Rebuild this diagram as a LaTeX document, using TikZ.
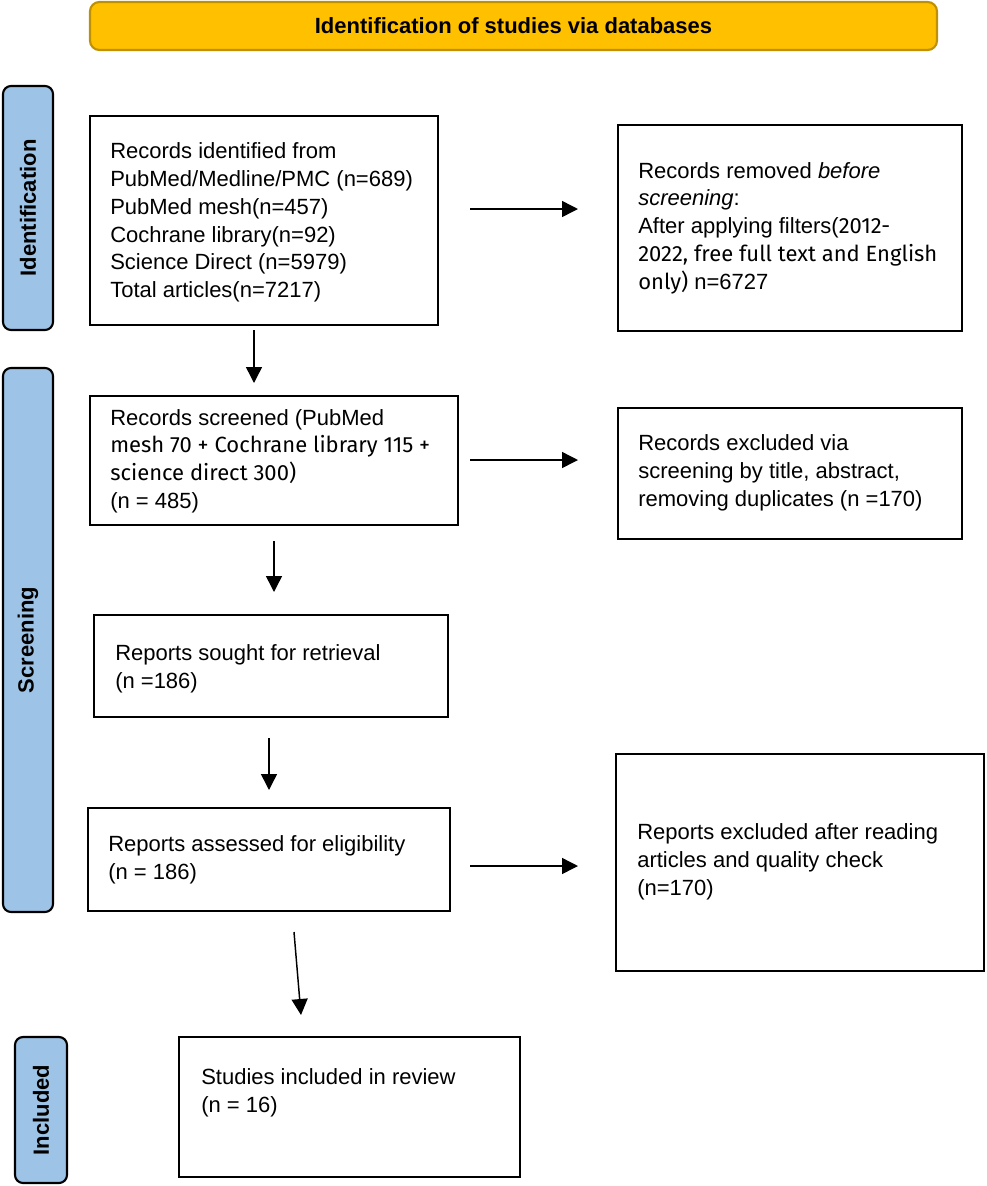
\documentclass[tikz,border=0pt]{standalone}
\usepackage{fontspec}
\setmainfont{Liberation Sans}
\newfontfamily\fira{Fira Sans}
\usetikzlibrary{arrows.meta}
\definecolor{gold}{HTML}{FFC000}
\definecolor{goldedge}{HTML}{BF9000}
\definecolor{sideblue}{HTML}{9DC3E6}
\begin{document}
\begin{tikzpicture}[x=0.75pt,y=-0.75pt,
  box/.style={draw=black, line width=2pt, inner sep=0, rectangle},
  side/.style={draw=black, line width=1.6pt, fill=sideblue, rounded corners=6pt, inner sep=0},
  sidetxt/.style={rotate=90, inner sep=0, font=\fontsize{16.5}{19}\selectfont\bfseries},
  txt/.style={anchor=west, align=left, inner sep=0, font=\fontsize{16.5}{20.8}\selectfont},
  arr/.style={line width=1.1pt, -{Triangle[length=12pt,width=12pt]}}]
\useasboundingbox (0,0) rectangle (986,1186);
% header
\node[draw=goldedge, line width=1.6pt, fill=gold, rounded corners=7pt,
  minimum width=635.25pt, minimum height=36pt, inner sep=0,
  font=\fontsize{16.5}{19}\selectfont\bfseries] (hdr) at (513.5,26) {Identification of studies via databases};
% side labels
\node[side, minimum width=37.5pt, minimum height=183pt] (sid) at (28,208) {};
\node[sidetxt] (sidt) at (sid.center) {Identification};
\node[side, minimum width=37.5pt, minimum height=408pt] (ssc) at (28,640) {};
\node[sidetxt] (ssct) at (ssc.center) {Screening};
\node[side, minimum width=39pt, minimum height=109.5pt] (sin) at (41,1110) {};
\node[sidetxt] (sint) at (sin.center) {Included};
% boxes
\node[box, minimum width=261pt, minimum height=156.75pt] (b1) at (264,220.5) {};
\node[box, minimum width=258pt, minimum height=154.5pt] (r1) at (790,228) {};
\node[box, minimum width=276pt, minimum height=96.75pt] (b2) at (274,460.5) {};
\node[box, minimum width=258pt, minimum height=98.25pt] (r2) at (790,473.5) {};
\node[box, minimum width=265.5pt, minimum height=76.5pt] (b3) at (271,666) {};
\node[box, minimum width=271.5pt, minimum height=77.25pt] (b4) at (269,859.5) {};
\node[box, minimum width=276pt, minimum height=162.75pt] (r3) at (800,862.5) {};
\node[box, minimum width=255.75pt, minimum height=105pt] (b5) at (349.5,1107) {};
% texts
\node[txt] (t1) at (110,222.5) {Records identified from\\PubMed/Medline/PMC (n=689)\\PubMed mesh(n=457)\\Cochrane library(n=92)\\Science Direct (n=5979)\\Total articles(n=7217)};
\node[txt] (tr1) at (638,228) {Records removed \textit{before}\\\textit{screening}:\\After applying filters({\fira 2012-}\\{\fira 2022, free full text and English}\\{\fira only)} n=6727};
\node[txt] (t2) at (110,461) {Records screened (PubMed\\{\fira mesh 70 + Cochrane library 115 +}\\{\fira science direct 300)}\\(n = 485)};
\node[txt] (tr2) at (638,473) {Records excluded via\\screening by title, abstract,\\removing duplicates (n =170)};
\node[txt] (t3) at (115,669) {Reports sought for retrieval\\(n =186)};
\node[txt] (t4) at (108,860) {Reports assessed for eligibility\\(n = 186)};
\node[txt] (tr3) at (637,862) {Reports excluded after reading\\articles and quality check\\(n=170)};
\node[txt] (t5) at (201,1093) {Studies included in review\\(n = 16)};
% arrow end points
\coordinate (a1s) at (470,209); \coordinate (a1e) at (578,209);
\coordinate (a2s) at (254,330); \coordinate (a2e) at (254,383);
\coordinate (a3s) at (470,460); \coordinate (a3e) at (578,460);
\coordinate (a4s) at (274,541); \coordinate (a4e) at (274,592);
\coordinate (a5s) at (269,738); \coordinate (a5e) at (269,790);
\coordinate (a6s) at (470,866); \coordinate (a6e) at (578,866);
\coordinate (a7s) at (294,932); \coordinate (a7e) at (301,1015);
\draw[arr] (a1s) -- (a1e);
\draw[arr] (a2s) -- (a2e);
\draw[arr] (a3s) -- (a3e);
\draw[arr] (a4s) -- (a4e);
\draw[arr] (a5s) -- (a5e);
\draw[arr] (a6s) -- (a6e);
\draw[arr] (a7s) -- (a7e);
\end{tikzpicture}
\end{document}
